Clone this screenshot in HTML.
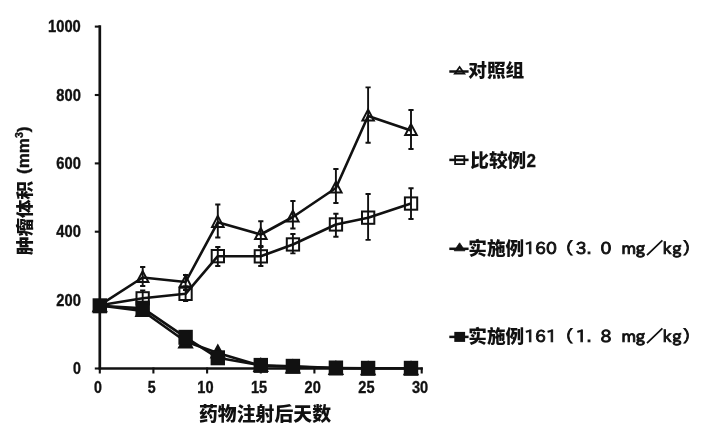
<!DOCTYPE html>
<html lang="zh"><head><meta charset="utf-8"><title>肿瘤体积</title>
<style>html,body{margin:0;padding:0;background:#fff}svg{display:block}</style></head>
<body>
<svg width="716" height="431" viewBox="0 0 716 431">
<rect width="716" height="431" fill="#fff"/>
<g stroke="#111" stroke-width="2.7" fill="none" stroke-linecap="butt">
<path d="M99.8 25.3 V369.5"/>
<path d="M98.8 368.5 H422.8" stroke-width="2.4"/>
</g>
<g stroke="#111" stroke-width="2.1" fill="none">
<path d="M94.8 368.5 H99.8"/>
<path d="M94.8 300.1 H99.8"/>
<path d="M94.8 231.7 H99.8"/>
<path d="M94.8 163.4 H99.8"/>
<path d="M94.8 95.0 H99.8"/>
<path d="M94.8 26.6 H99.8"/>
<path d="M99.8 367.5 V373.5"/>
<path d="M153.4 367.5 V373.5"/>
<path d="M207.1 367.5 V373.5"/>
<path d="M260.8 367.5 V373.5"/>
<path d="M314.4 367.5 V373.5"/>
<path d="M368.1 367.5 V373.5"/>
<path d="M421.7 367.5 V373.5"/>
</g>
<g font-family="'Liberation Sans', sans-serif" font-weight="700" font-size="15.8" fill="#111" stroke="#111" stroke-width="0.35">
<text x="72.9" y="374.2" textLength="7.9" lengthAdjust="spacingAndGlyphs">0</text>
<text x="56.3" y="305.8" textLength="24.5" lengthAdjust="spacingAndGlyphs">200</text>
<text x="56.3" y="237.4" textLength="24.5" lengthAdjust="spacingAndGlyphs">400</text>
<text x="56.3" y="169.1" textLength="24.5" lengthAdjust="spacingAndGlyphs">600</text>
<text x="56.3" y="100.7" textLength="24.5" lengthAdjust="spacingAndGlyphs">800</text>
<text x="48.0" y="32.3" textLength="32.8" lengthAdjust="spacingAndGlyphs">1000</text>
<text x="94.1" y="393" textLength="7.9" lengthAdjust="spacingAndGlyphs">0</text>
<text x="147.8" y="393" textLength="7.9" lengthAdjust="spacingAndGlyphs">5</text>
<text x="197.3" y="393" textLength="16.2" lengthAdjust="spacingAndGlyphs">10</text>
<text x="251.0" y="393" textLength="16.2" lengthAdjust="spacingAndGlyphs">15</text>
<text x="304.6" y="393" textLength="16.2" lengthAdjust="spacingAndGlyphs">20</text>
<text x="358.3" y="393" textLength="16.2" lengthAdjust="spacingAndGlyphs">25</text>
<text x="411.9" y="393" textLength="16.2" lengthAdjust="spacingAndGlyphs">30</text>
</g>
<polyline points="99.8,305.2 142.7,277.5 185.6,282 217.8,222.3 260.8,234.5 292.9,217 335.9,188 368.1,116 411.0,130.5" fill="none" stroke="#111" stroke-width="2.6" stroke-linejoin="round"/>
<path d="M142.7 271.1 L148.4 282.1 L136.9 282.1 Z" fill="none" stroke="#111" stroke-width="2" stroke-linejoin="miter"/>
<path d="M185.6 275.6 L191.3 286.6 L179.8 286.6 Z" fill="none" stroke="#111" stroke-width="2" stroke-linejoin="miter"/>
<path d="M217.8 215.9 L223.6 226.9 L212.1 226.9 Z" fill="none" stroke="#111" stroke-width="2" stroke-linejoin="miter"/>
<path d="M260.8 228.1 L266.6 239.1 L255.1 239.1 Z" fill="none" stroke="#111" stroke-width="2" stroke-linejoin="miter"/>
<path d="M292.9 210.6 L298.6 221.6 L287.1 221.6 Z" fill="none" stroke="#111" stroke-width="2" stroke-linejoin="miter"/>
<path d="M335.9 181.6 L341.6 192.6 L330.1 192.6 Z" fill="none" stroke="#111" stroke-width="2" stroke-linejoin="miter"/>
<path d="M368.1 109.6 L373.9 120.6 L362.4 120.6 Z" fill="none" stroke="#111" stroke-width="2" stroke-linejoin="miter"/>
<path d="M411.0 124.1 L416.8 135.1 L405.2 135.1 Z" fill="none" stroke="#111" stroke-width="2" stroke-linejoin="miter"/>
<path d="M142.7 267 V286 M140.1 267 H145.3 M140.1 286 H145.3" stroke="#111" stroke-width="1.9" fill="none"/>
<path d="M185.6 275 V290 M183.0 275 H188.2 M183.0 290 H188.2" stroke="#111" stroke-width="1.9" fill="none"/>
<path d="M217.8 204.5 V237.5 M215.2 204.5 H220.4 M215.2 237.5 H220.4" stroke="#111" stroke-width="1.9" fill="none"/>
<path d="M260.8 221.3 V247 M258.2 221.3 H263.4 M258.2 247 H263.4" stroke="#111" stroke-width="1.9" fill="none"/>
<path d="M292.9 201 V228.5 M290.3 201 H295.5 M290.3 228.5 H295.5" stroke="#111" stroke-width="1.9" fill="none"/>
<path d="M335.9 169 V203 M333.3 169 H338.5 M333.3 203 H338.5" stroke="#111" stroke-width="1.9" fill="none"/>
<path d="M368.1 87.4 V142.8 M365.5 87.4 H370.7 M365.5 142.8 H370.7" stroke="#111" stroke-width="1.9" fill="none"/>
<path d="M411.0 110 V149 M408.4 110 H413.6 M408.4 149 H413.6" stroke="#111" stroke-width="1.9" fill="none"/>
<polyline points="99.8,305.2 142.7,298.3 185.6,293.8 217.8,256.2 260.8,256.3 292.9,244.5 335.9,224.5 368.1,217.7 411.0,203.6" fill="none" stroke="#111" stroke-width="2.6" stroke-linejoin="round"/>
<rect x="136.5" y="292.2" width="12.3" height="12.3" fill="none" stroke="#111" stroke-width="2"/>
<rect x="179.4" y="287.7" width="12.3" height="12.3" fill="none" stroke="#111" stroke-width="2"/>
<rect x="211.7" y="250.0" width="12.3" height="12.3" fill="none" stroke="#111" stroke-width="2"/>
<rect x="254.7" y="250.2" width="12.3" height="12.3" fill="none" stroke="#111" stroke-width="2"/>
<rect x="286.8" y="238.3" width="12.3" height="12.3" fill="none" stroke="#111" stroke-width="2"/>
<rect x="329.8" y="218.3" width="12.3" height="12.3" fill="none" stroke="#111" stroke-width="2"/>
<rect x="362.0" y="211.5" width="12.3" height="12.3" fill="none" stroke="#111" stroke-width="2"/>
<rect x="404.9" y="197.4" width="12.3" height="12.3" fill="none" stroke="#111" stroke-width="2"/>
<path d="M142.7 290.4 V305 M140.1 290.4 H145.3 M140.1 305 H145.3" stroke="#111" stroke-width="1.9" fill="none"/>
<path d="M185.6 286.5 V301 M183.0 286.5 H188.2 M183.0 301 H188.2" stroke="#111" stroke-width="1.9" fill="none"/>
<path d="M217.8 247 V266 M215.2 247 H220.4 M215.2 266 H220.4" stroke="#111" stroke-width="1.9" fill="none"/>
<path d="M260.8 246 V266 M258.2 246 H263.4 M258.2 266 H263.4" stroke="#111" stroke-width="1.9" fill="none"/>
<path d="M292.9 234 V253.4 M290.3 234 H295.5 M290.3 253.4 H295.5" stroke="#111" stroke-width="1.9" fill="none"/>
<path d="M335.9 213.8 V236.8 M333.3 213.8 H338.5 M333.3 236.8 H338.5" stroke="#111" stroke-width="1.9" fill="none"/>
<path d="M368.1 194 V239.9 M365.5 194 H370.7 M365.5 239.9 H370.7" stroke="#111" stroke-width="1.9" fill="none"/>
<path d="M411.0 188.3 V219 M408.4 188.3 H413.6 M408.4 219 H413.6" stroke="#111" stroke-width="1.9" fill="none"/>
<polyline points="99.8,305.5 142.7,311 185.6,341.5 217.8,353 260.8,365.8 292.9,366.8 335.9,368 368.1,368.3 411.0,368.3" fill="none" stroke="#111" stroke-width="2.6" stroke-linejoin="round"/>
<path d="M99.8 299.2 L106.3 311.2 L93.3 311.2 Z" fill="#111" stroke="#111" stroke-width="2" stroke-linejoin="miter"/>
<path d="M142.7 304.0 L149.2 316.0 L136.2 316.0 Z" fill="#111" stroke="#111" stroke-width="2" stroke-linejoin="miter"/>
<path d="M185.6 335.5 L192.1 347.5 L179.1 347.5 Z" fill="#111" stroke="#111" stroke-width="2" stroke-linejoin="miter"/>
<path d="M217.8 345.5 L224.3 357.5 L211.3 357.5 Z" fill="#111" stroke="#111" stroke-width="2" stroke-linejoin="miter"/>
<path d="M260.8 359.0 L267.3 371.0 L254.3 371.0 Z" fill="#111" stroke="#111" stroke-width="2" stroke-linejoin="miter"/>
<path d="M292.9 360.5 L299.4 372.5 L286.4 372.5 Z" fill="#111" stroke="#111" stroke-width="2" stroke-linejoin="miter"/>
<path d="M335.9 362.0 L342.4 374.0 L329.4 374.0 Z" fill="#111" stroke="#111" stroke-width="2" stroke-linejoin="miter"/>
<path d="M368.1 362.3 L374.6 374.3 L361.6 374.3 Z" fill="#111" stroke="#111" stroke-width="2" stroke-linejoin="miter"/>
<path d="M411.0 362.3 L417.5 374.3 L404.5 374.3 Z" fill="#111" stroke="#111" stroke-width="2" stroke-linejoin="miter"/>
<polyline points="99.8,305.8 142.7,308.2 185.6,337.3 217.8,357.8 260.8,365.4 292.9,366.3 335.9,368 368.1,368.3 411.0,368.3" fill="none" stroke="#111" stroke-width="2.6" stroke-linejoin="round"/>
<rect x="92.6" y="298.3" width="14.4" height="15" fill="#111"/>
<rect x="135.5" y="300.7" width="14.4" height="15" fill="#111"/>
<rect x="178.4" y="329.8" width="14.4" height="15" fill="#111"/>
<rect x="210.6" y="350.3" width="14.4" height="15" fill="#111"/>
<rect x="253.6" y="357.9" width="14.4" height="15" fill="#111"/>
<rect x="285.7" y="358.8" width="14.4" height="15" fill="#111"/>
<rect x="328.7" y="360.5" width="14.4" height="15" fill="#111"/>
<rect x="360.9" y="360.8" width="14.4" height="15" fill="#111"/>
<rect x="403.8" y="360.8" width="14.4" height="15" fill="#111"/>
<text x="199" y="421" font-family="'Liberation Sans','Noto Sans CJK SC',sans-serif" font-weight="900" font-size="18.8" fill="#111" textLength="132" lengthAdjust="spacingAndGlyphs">药物注射后天数</text>
<g transform="translate(31.2,255) rotate(-90)" fill="#111"><text x="0" y="0" font-family="'Liberation Sans','Noto Sans CJK SC',sans-serif" font-weight="900" font-size="17.6" textLength="74" lengthAdjust="spacingAndGlyphs">肿瘤体积</text><text x="81" y="-2.5" font-family="'Liberation Sans',sans-serif" font-weight="700" font-size="17" stroke="#111" stroke-width="0.4">(mm<tspan dy="-6" font-size="10.5">3</tspan><tspan dy="6">)</tspan></text></g>
<path d="M449.3 71.5 H468.6" stroke="#111" stroke-width="2.5"/>
<path d="M459.6 66.9 L464.4 73.7 L454.8 73.7 Z" fill="none" stroke="#111" stroke-width="1.7"/>
<path d="M449.3 159.9 H468.6" stroke="#111" stroke-width="2.5"/>
<rect x="455.1" y="156.1" width="9.2" height="8" fill="none" stroke="#111" stroke-width="1.8"/>
<path d="M449.3 248.8 H468.6" stroke="#111" stroke-width="2.5"/>
<path d="M459.6 242.8 L465 250.8 L454.2 250.8 Z" fill="#111" stroke="#111" stroke-width="0.8"/>
<path d="M449.3 336.9 H468.6" stroke="#111" stroke-width="2.5"/>
<rect x="454.3" y="331.9" width="10.8" height="10" fill="#111"/>
<text x="468.3" y="77.1" font-family="'Liberation Sans','Noto Sans CJK SC',sans-serif" font-weight="900" font-size="18.5" fill="#111" textLength="56" lengthAdjust="spacingAndGlyphs">对照组</text>
<text x="470.3" y="166.6" font-family="'Liberation Sans','Noto Sans CJK SC',sans-serif" font-weight="900" font-size="18.5" fill="#111" textLength="56" lengthAdjust="spacingAndGlyphs">比较例</text>
<text transform="translate(526.6,167.0) scale(0.9,1)" font-family="'Liberation Sans',sans-serif" font-weight="700" font-size="19" fill="#111" stroke="#111" stroke-width="0.3">2</text>
<text x="468.3" y="254.6" font-family="'Liberation Sans','Noto Sans CJK SC',sans-serif" font-weight="900" font-size="18.5" fill="#111" textLength="56" lengthAdjust="spacingAndGlyphs">实施例</text>
<text transform="scale(1.05,1)" y="253.7" font-family="IPAPGothic,IPAGothic,'Noto Sans CJK JP',sans-serif" font-size="16.5" fill="#111" stroke="#111" stroke-width="0.9" xml:space="preserve"><tspan x="499.24">160</tspan><tspan x="537.05">（</tspan><tspan x="548.38">3.</tspan><tspan x="572.0">0</tspan><tspan x="582.38"> </tspan><tspan x="591.62">m</tspan><tspan x="605.14">g</tspan><tspan x="615.24">／</tspan><tspan x="630.95">k</tspan><tspan x="640.0">g</tspan><tspan x="650.0">）</tspan></text>
<text x="468.3" y="342.8" font-family="'Liberation Sans','Noto Sans CJK SC',sans-serif" font-weight="900" font-size="18.5" fill="#111" textLength="56" lengthAdjust="spacingAndGlyphs">实施例</text>
<text transform="scale(1.05,1)" y="341.9" font-family="IPAPGothic,IPAGothic,'Noto Sans CJK JP',sans-serif" font-size="16.5" fill="#111" stroke="#111" stroke-width="0.9" xml:space="preserve"><tspan x="499.24">161</tspan><tspan x="537.05">（</tspan><tspan x="548.38">1.</tspan><tspan x="572.0">8</tspan><tspan x="582.38"> </tspan><tspan x="591.62">m</tspan><tspan x="605.14">g</tspan><tspan x="615.24">／</tspan><tspan x="630.95">k</tspan><tspan x="640.0">g</tspan><tspan x="650.0">）</tspan></text>
</svg>
</body></html>
